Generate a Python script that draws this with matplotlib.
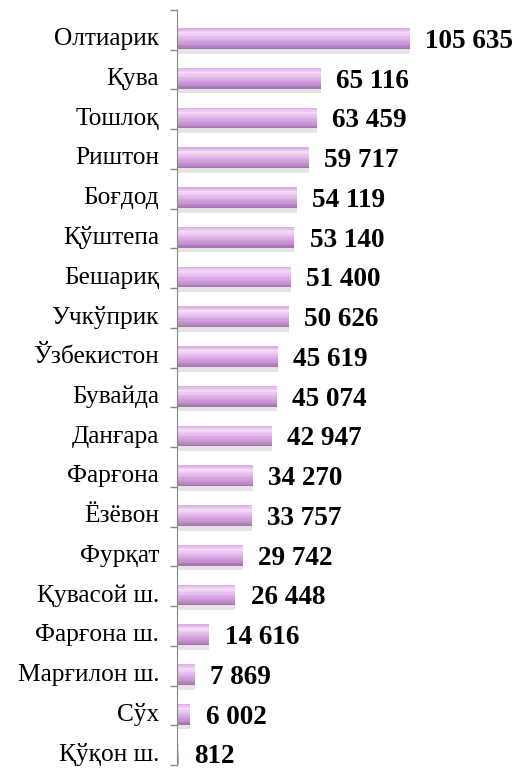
import matplotlib.pyplot as plt
import matplotlib.colors as mcolors
import numpy as np

districts = ['Олтиарик', 'Қува', 'Тошлоқ', 'Риштон', 'Боғдод', 'Қўштепа', 'Бешариқ',
             'Учкўприк', 'Ўзбекистон', 'Бувайда', 'Данғара', 'Фарғона', 'Ёзёвон',
             'Фурқат', 'Қувасой ш.', 'Фарғона ш.', 'Марғилон ш.', 'Сўх', 'Қўқон ш.']
values = [105635, 65116, 63459, 59717, 54119, 53140, 51400, 50626, 45619, 45074,
          42947, 34270, 33757, 29742, 26448, 14616, 7869, 6002, 812]
value_labels = [f'{v:,}'.replace(',', ' ') for v in values]

plt.rcParams['font.family'] = ['Liberation Serif', 'DejaVu Serif']

fig = plt.figure(figsize=(5.15, 7.69), dpi=100)
ax = fig.add_axes([0.344, 0.005, 0.656, 0.982])

y = np.arange(len(districts))
yb = y + 0.22   # bars sit a bit low in their band (3D look)
h = 0.52

# soft shadow under each bar
ax.barh(yb + 0.12, values, height=h, color='#c4c4c4', alpha=0.45, linewidth=0, zorder=1)
# body drawn as thin strips to fake a cylinder gradient (top light -> bottom dark)
grad = mcolors.LinearSegmentedColormap.from_list(
    'cyl', ['#dfb0e8', '#f4dcf7', '#e8c2ee', '#d9a5e2', '#c993d3', '#a675af'])
n = 16
sh = h / n
for i in range(n):
    ax.barh(yb - h / 2 + sh * (i + 0.5), values, height=sh * 1.05,
            color=grad(i / (n - 1)), linewidth=0, zorder=2)

for yi, v, lab in zip(yb, values, value_labels):
    ax.annotate(lab, (v, yi), xytext=(11, -2), textcoords='offset points',
                va='center', ha='left', fontsize=19.5, fontweight='bold', color='black')

ax.set_xlim(0, 153200)
ax.set_ylim(len(districts) - 0.5, -0.5)
ax.set_yticks(y + 0.17)
ax.set_yticklabels(districts, fontsize=18.3)
ax.set_yticks(np.arange(-0.5, len(districts), 1), minor=True)
ax.tick_params(axis='y', which='major', length=0, pad=13)
ax.tick_params(axis='y', which='minor', length=5, color='#888888', width=1)
ax.set_xticks([])
for s in ['top', 'right', 'bottom']:
    ax.spines[s].set_visible(False)
ax.spines['left'].set_color('#888888')

fig.savefig('out.png', dpi=100)
